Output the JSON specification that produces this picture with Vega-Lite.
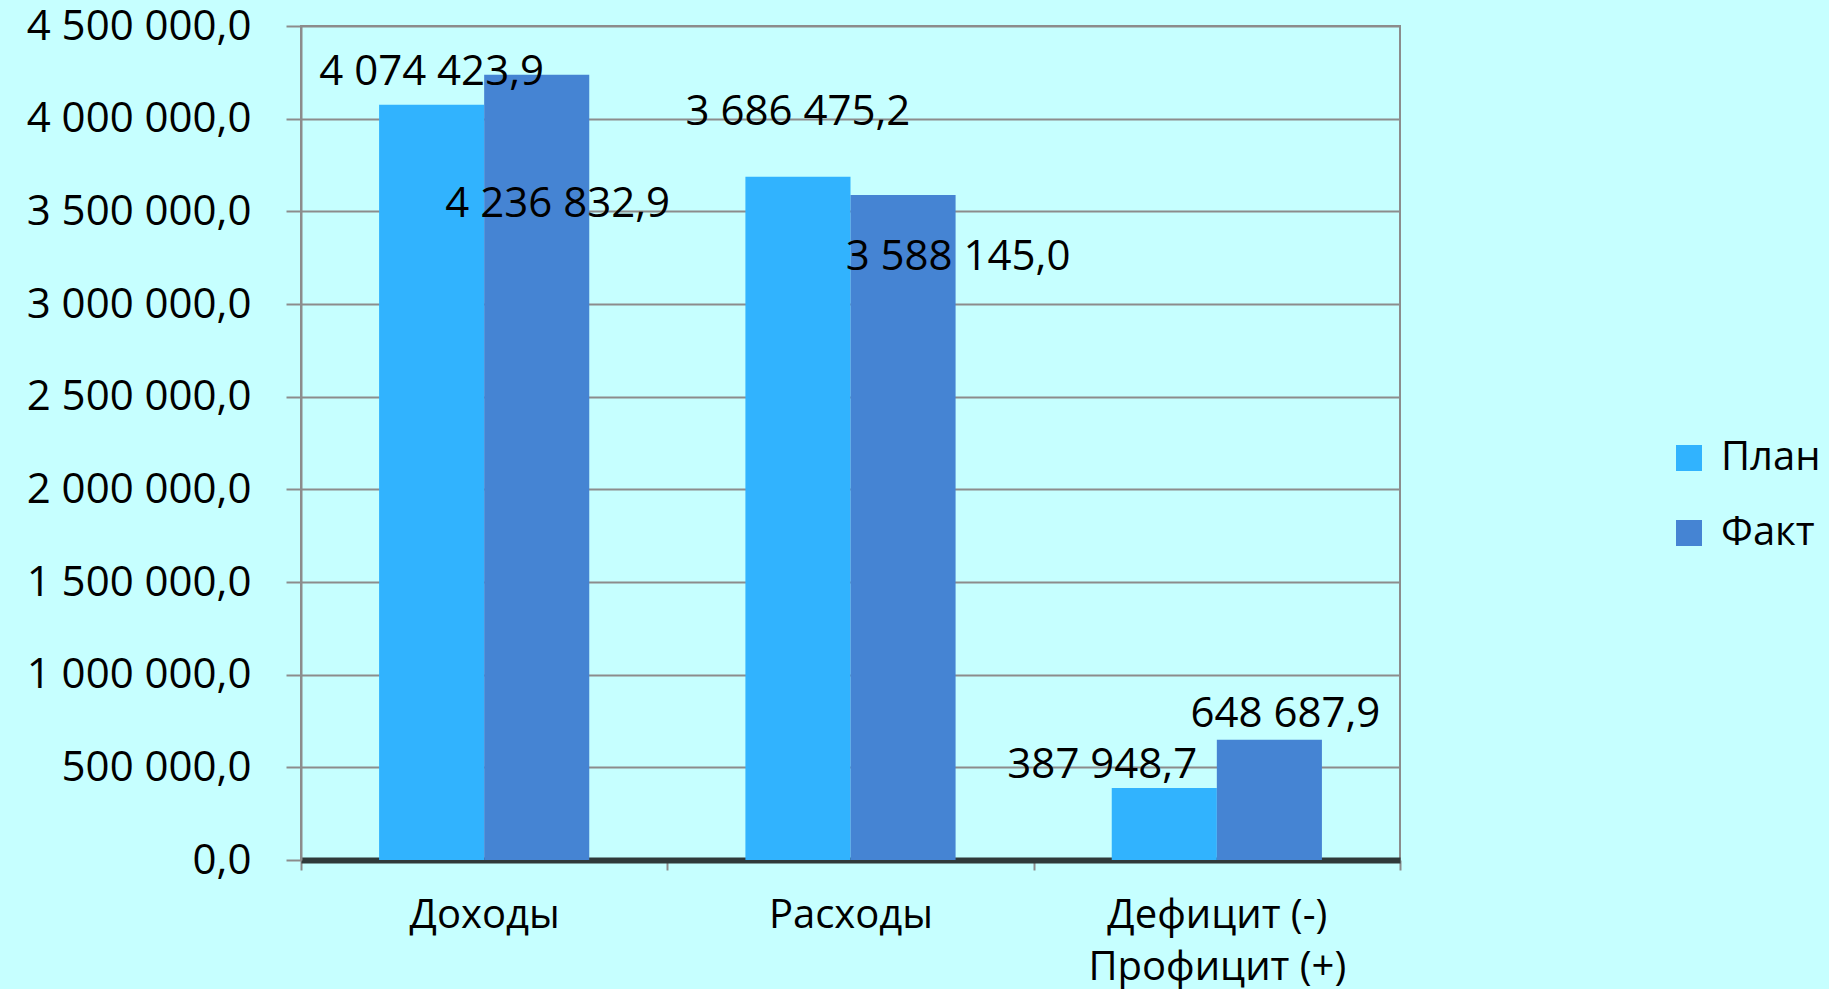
{
  "$schema": "https://vega.github.io/schema/vega-lite/v6.json",
  "width": 1099,
  "height": 834,
  "autosize": {"type": "none"},
  "padding": {"left": 301, "top": 26, "right": 429, "bottom": 129},
  "background": "#C6FFFF",
  "config": {
    "font": "Open Sans",
    "locale": {"number": {"decimal": ",", "thousands": " ", "grouping": [3], "currency": ["", ""]}},
    "view": {"stroke": "#8c8c8c", "strokeWidth": 2},
    "text": {"font": "Open Sans", "fontSize": 42, "color": "#000000"}
  },
  "data": {
    "values": [
      {"category": "Доходы", "series": "План", "value": 4074423.9},
      {"category": "Доходы", "series": "Факт", "value": 4236832.9},
      {"category": "Расходы", "series": "План", "value": 3686475.2},
      {"category": "Расходы", "series": "Факт", "value": 3588145.0},
      {"category": "Дефицит (-)\nПрофицит (+)", "series": "План", "value": 387948.7},
      {"category": "Дефицит (-)\nПрофицит (+)", "series": "Факт", "value": 648687.9}
    ]
  },
  "encoding": {
    "x": {
      "field": "category",
      "type": "nominal",
      "sort": null,
      "scale": {"paddingInner": 0, "paddingOuter": 0},
      "axis": {
        "title": null,
        "labelAngle": 0,
        "labelFontSize": 40,
        "labelColor": "#000000",
        "labelPadding": 25,
        "labelLineHeight": 52,
        "labelLimit": 0,
        "labelExpr": "split(datum.label, '\\n')",
        "tickBand": "extent",
        "tickSize": 10,
        "tickColor": "#8c8c8c",
        "tickWidth": 2,
        "domainColor": "#2f3a3a",
        "domainWidth": 6,
        "grid": false
      }
    },
    "xOffset": {
      "field": "series",
      "sort": ["План", "Факт"],
      "scale": {"paddingInner": 0, "paddingOuter": 0.743}
    },
    "y": {
      "field": "value",
      "type": "quantitative",
      "scale": {"domain": [0, 4500000], "nice": false},
      "axis": {
        "title": null,
        "values": [0, 500000, 1000000, 1500000, 2000000, 2500000, 3000000, 3500000, 4000000, 4500000],
        "format": ",.1f",
        "labelFontSize": 42,
        "labelColor": "#000000",
        "labelPadding": 35,
        "labelLimit": 0,
        "tickSize": 15,
        "tickColor": "#8c8c8c",
        "tickWidth": 2,
        "domainColor": "#8c8c8c",
        "domainWidth": 2,
        "grid": true,
        "gridColor": "#8c8c8c",
        "gridWidth": 2
      }
    }
  },
  "layer": [
    {
      "mark": {"type": "bar"},
      "encoding": {
        "color": {
          "field": "series",
          "type": "nominal",
          "scale": {"domain": ["План", "Факт"], "range": ["#31B3FE", "#4584D3"]},
          "legend": {
            "title": null,
            "orient": "none",
            "legendX": 1368,
            "legendY": 412,
            "symbolType": "square",
            "symbolSize": 676,
            "symbolStrokeWidth": 0,
            "labelFontSize": 40,
            "labelColor": "#000000",
            "labelOffset": 12,
            "labelLimit": 0,
            "rowPadding": 35
          }
        }
      }
    },
    {
      "transform": [{"filter": "datum.category == 'Доходы' && datum.series == 'План'"}],
      "mark": {"type": "text", "baseline": "middle", "dy": -33, "dx": 0},
      "encoding": {"text": {"field": "value", "type": "quantitative", "format": ",.1f"}}
    },
    {
      "transform": [{"filter": "datum.category == 'Доходы' && datum.series == 'Факт'"}],
      "mark": {"type": "text", "baseline": "middle", "dy": 129, "dx": 21},
      "encoding": {"text": {"field": "value", "type": "quantitative", "format": ",.1f"}}
    },
    {
      "transform": [{"filter": "datum.category == 'Расходы' && datum.series == 'План'"}],
      "mark": {"type": "text", "baseline": "middle", "dy": -65, "dx": 0},
      "encoding": {"text": {"field": "value", "type": "quantitative", "format": ",.1f"}}
    },
    {
      "transform": [{"filter": "datum.category == 'Расходы' && datum.series == 'Факт'"}],
      "mark": {"type": "text", "baseline": "middle", "dy": 62, "dx": 55},
      "encoding": {"text": {"field": "value", "type": "quantitative", "format": ",.1f"}}
    },
    {
      "transform": [{"filter": "indexof(datum.category, 'Дефицит') == 0 && datum.series == 'План'"}],
      "mark": {"type": "text", "baseline": "middle", "dy": -23, "dx": -62},
      "encoding": {"text": {"field": "value", "type": "quantitative", "format": ",.1f"}}
    },
    {
      "transform": [{"filter": "indexof(datum.category, 'Дефицит') == 0 && datum.series == 'Факт'"}],
      "mark": {"type": "text", "baseline": "middle", "dy": -26, "dx": 16},
      "encoding": {"text": {"field": "value", "type": "quantitative", "format": ",.1f"}}
    }
  ]
}
